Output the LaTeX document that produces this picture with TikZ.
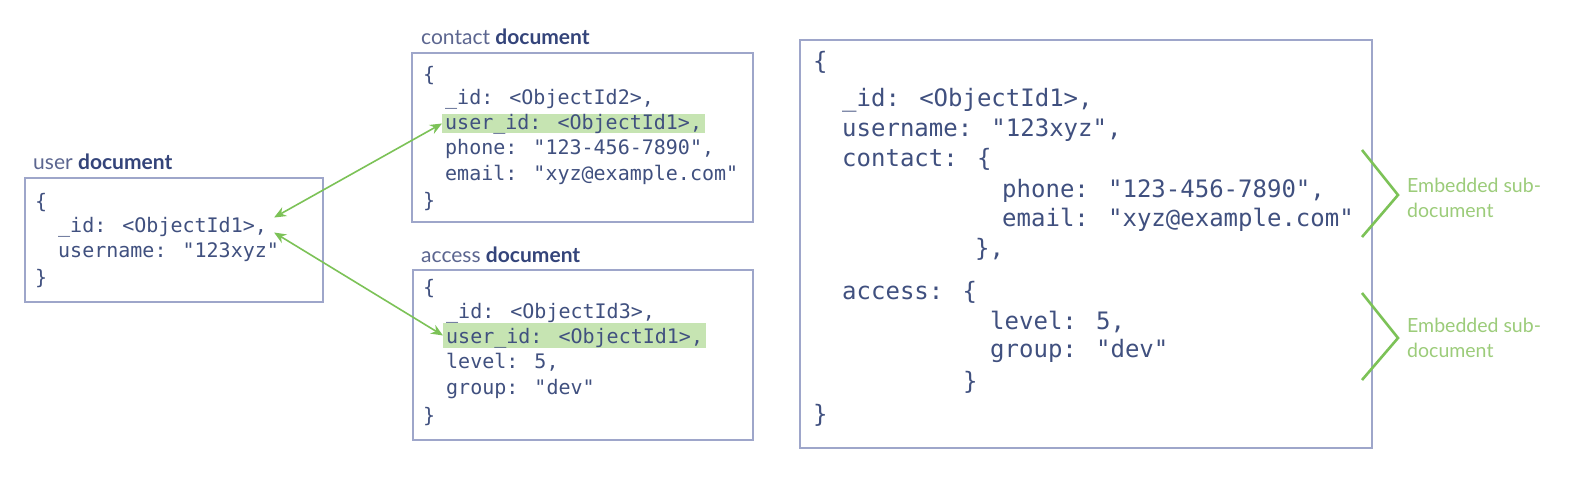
\documentclass[tikz,border=0pt]{standalone}
\usepackage{fontspec}
\newfontfamily\codefont{DejaVu Sans Mono}
\newfontfamily\labelfont{Lato}
\usetikzlibrary{arrows.meta}
\definecolor{boxline}{HTML}{9EA6CA}
\definecolor{codecol}{HTML}{40507F}
\definecolor{titlelight}{HTML}{5C6690}
\definecolor{titledark}{HTML}{34447A}
\definecolor{hl}{HTML}{C6E4B2}
\definecolor{arrowgreen}{HTML}{7CC257}
\definecolor{embgreen}{HTML}{9CCC7A}
\tikzset{
  docbox/.style={draw=boxline, line width=1.4pt, rectangle, inner sep=0pt},
  code/.style={font=\codefont\fontsize{20}{24}\selectfont, text=codecol, inner sep=0pt, anchor=base west, text height=15pt, text depth=4pt},
  bigcode/.style={font=\codefont\fontsize{24}{29}\selectfont, text=codecol, inner sep=0pt, anchor=base west},
  hlcode/.style={code, fill=hl, inner xsep=3pt, inner ysep=0pt},
  doctitle/.style={font=\labelfont\fontsize{21}{25}\selectfont, inner sep=0pt, anchor=base west},
  emb/.style={font=\labelfont\fontsize{19.5}{25}\selectfont, text=embgreen, inner sep=0pt, anchor=base west, align=left},
  link/.style={draw=arrowgreen, line width=1.6pt, arrows={Stealth[length=12pt,width=10pt]-Stealth[length=12pt,width=10pt]}},
  bracket/.style={draw=arrowgreen, line width=2.6pt, line join=miter}
}
\begin{document}
\begin{tikzpicture}[x=1pt,y=-1pt]
\useasboundingbox (0,0) rectangle (1592,480);
\fill[white] (0,0) rectangle (1592,480);

% boxes
\node[docbox, minimum width=298pt, minimum height=124pt] (userbox) at (174,240) {};
\node[docbox, minimum width=341pt, minimum height=169pt] (contactbox) at (582.5,137.5) {};
\node[docbox, minimum width=340pt, minimum height=170pt] (accessbox) at (583,355) {};
\node[docbox, minimum width=572pt, minimum height=408pt] (bigbox) at (1086,244) {};

% titles
\node[doctitle] (usertitle) at (33,169) {\textcolor{titlelight}{user} \textcolor{titledark}{\bfseries document}};
\node[doctitle] (contacttitle) at (421,44) {\textcolor{titlelight}{contact} \textcolor{titledark}{\bfseries document}};
\node[doctitle] (accesstitle) at (421,262) {\textcolor{titlelight}{access} \textcolor{titledark}{\bfseries document}};

% user document
\node[code] (u0) at (35,208) {\{};
\node[code] (uid) at (58,232) {\_id: <ObjectId1>,};
\node[code] (u2) at (58,257) {username: "123xyz"};
\node[code] (u3) at (35,284) {\}};

% contact document
\node[code] (c0) at (423,81) {\{};
\node[code] (c1) at (445,104) {\_id: <ObjectId2>,};
\node[hlcode] (cuid) at (442,129) {user\_id: <ObjectId1>,};
\node[code] (c3) at (445,154.5) {phone: "123-456-7890",};
\node[code] (c4) at (445,180) {email: "xyz@example.com"};
\node[code] (c5) at (423,207) {\}};

% access document
\node[code] (a0) at (423,294) {\{};
\node[code] (a1) at (446,318) {\_id: <ObjectId3>,};
\node[hlcode, text height=20pt, text depth=5pt] (auid) at (443,343) {user\_id: <ObjectId1>,};
\node[code] (a3) at (446,368.5) {level: 5,};
\node[code] (a4) at (446,394) {group: "dev"};
\node[code] (a5) at (423,422) {\}};

% embedded document
\node[bigcode] (b0) at (813,69) {\{};
\node[bigcode] (b1) at (842,106) {\_id: <ObjectId1>,};
\node[bigcode] (b2) at (842,136) {username: "123xyz",};
\node[bigcode] (b3) at (842,166) {contact: \{};
\node[bigcode] (b4) at (1002,197) {phone: "123-456-7890",};
\node[bigcode] (b5) at (1002,226) {email: "xyz@example.com"};
\node[bigcode] (b6) at (975,256) {\},};
\node[bigcode] (b7) at (842,299) {access: \{};
\node[bigcode] (b8) at (990,329) {level: 5,};
\node[bigcode] (b9) at (990,357) {group: "dev"};
\node[bigcode] (b10) at (963,389) {\}};
\node[bigcode] (b11) at (813,422) {\}};

% arrows
\draw[link] (cuid.west) -- ([shift={(7,-9)}]uid.east);
\draw[link] ([shift={(7,6)}]uid.east) -- (auid.west);

% brackets
\coordinate (br1a) at (1362,150);
\coordinate (br1b) at (1398,195);
\coordinate (br1c) at (1362,237);
\draw[bracket] (br1a) -- (br1b) -- (br1c);
\coordinate (br2a) at (1362,293);
\coordinate (br2b) at (1398,338);
\coordinate (br2c) at (1362,380);
\draw[bracket] (br2a) -- (br2b) -- (br2c);

\node[emb] (emb1) at (1407,217) {Embedded sub-\\document};
\node[emb] (emb2) at (1407,357) {Embedded sub-\\document};
\end{tikzpicture}
\end{document}
